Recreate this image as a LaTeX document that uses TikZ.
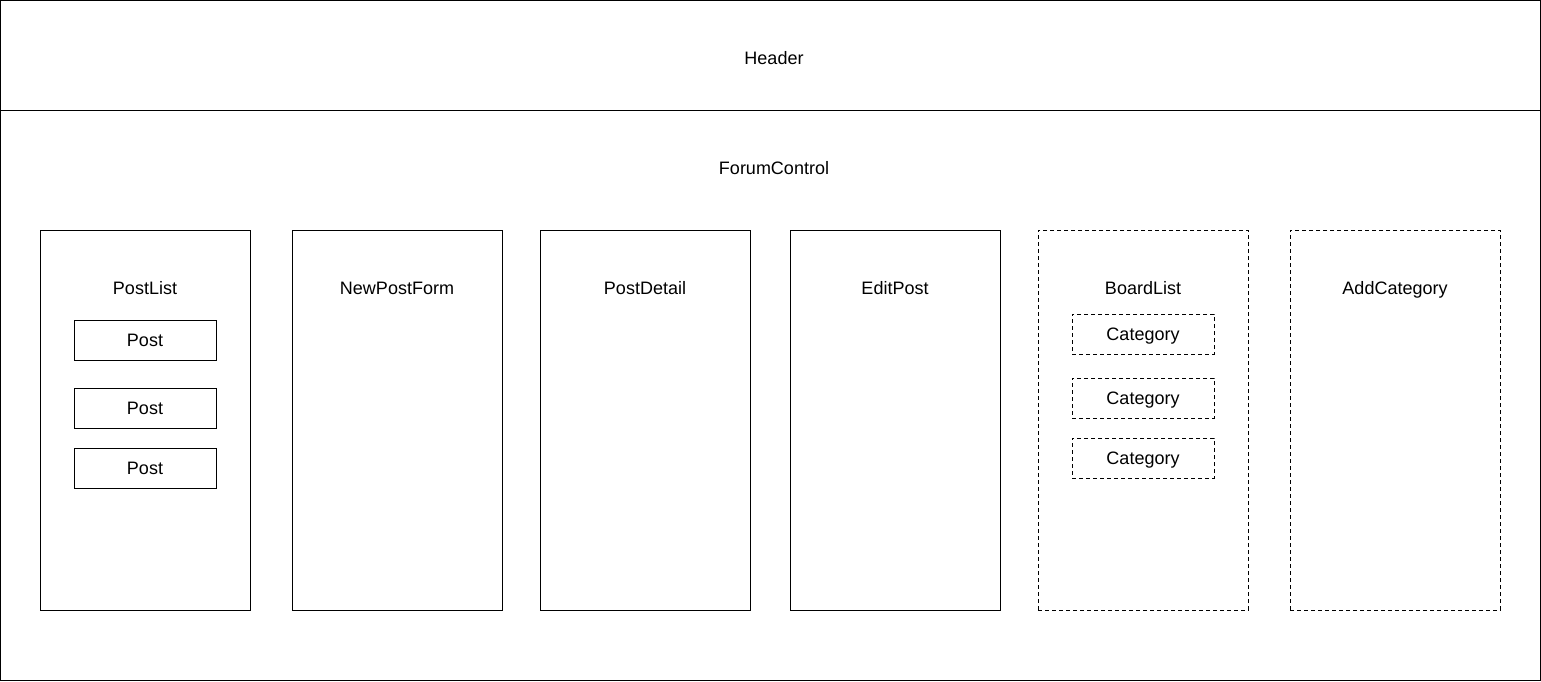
\documentclass[tikz,border=0pt]{standalone}
\usepackage{fontspec}
\setmainfont{Liberation Sans}
\usepackage{xcolor}
\usepackage{tikz}
\usetikzlibrary{positioning}
\tikzset{
  frame/.style={draw=black, line width=1pt, inner sep=0pt, minimum width=1540pt},
  panel/.style={draw=black, line width=1pt, inner sep=0pt, minimum width=210pt, minimum height=380pt},
  dashedpanel/.style={panel, dash pattern=on 4pt off 3pt},
  item/.style={draw=black, line width=1pt, inner sep=0pt, minimum width=142pt, minimum height=40pt, text height=13pt, text depth=0pt, font=\fontsize{18}{22}\selectfont},
  dasheditem/.style={item, dash pattern=on 4pt off 3pt},
  boxtitle/.style={inner sep=0pt, text height=13pt, text depth=0pt, font=\fontsize{18}{22}\selectfont},
}

\begin{document}
\begin{tikzpicture}[x=1pt, y=-1pt]
  \useasboundingbox (0,0) rectangle (1541,681);

  % Header bar and the ForumControl area under it
  \node[frame, minimum height=109.5pt] (header) at (770.5,55.25) {};
  \node[boxtitle] (headertitle) at (774,58) {Header};
  \node[frame, minimum height=570.5pt] (forum) at (770.5,395.25) {};
  \node[boxtitle] (forumtitle) at (774,168) {ForumControl};

  % Six component columns
  \node[panel] (postlist) at (145,420) {};
  \node[panel] (newpost) at (397,420) {};
  \node[panel] (postdetail) at (645,420) {};
  \node[panel] (editpost) at (895,420) {};
  \node[dashedpanel] (boardlist) at (1143,420) {};
  \node[dashedpanel] (addcat) at (1395,420) {};

  \node[boxtitle] (postlisttitle) at ([yshift=-58pt]postlist.north) {PostList};
  \node[boxtitle] (newposttitle) at ([yshift=-58pt]newpost.north) {NewPostForm};
  \node[boxtitle] (postdetailtitle) at ([yshift=-58pt]postdetail.north) {PostDetail};
  \node[boxtitle] (editposttitle) at ([yshift=-58pt]editpost.north) {EditPost};
  \node[boxtitle] (boardlisttitle) at ([yshift=-58pt]boardlist.north) {BoardList};
  \node[boxtitle] (addcattitle) at ([yshift=-58pt]addcat.north) {AddCategory};

  % Posts inside PostList
  \node[item] (post1) at (145,340) {Post};
  \node[item] (post2) at (145,408) {Post};
  \node[item] (post3) at (145,468) {Post};

  % Categories inside BoardList
  \node[dasheditem] (cat1) at (1143,334) {Category};
  \node[dasheditem] (cat2) at (1143,398) {Category};
  \node[dasheditem] (cat3) at (1143,458) {Category};
\end{tikzpicture}
\end{document}
